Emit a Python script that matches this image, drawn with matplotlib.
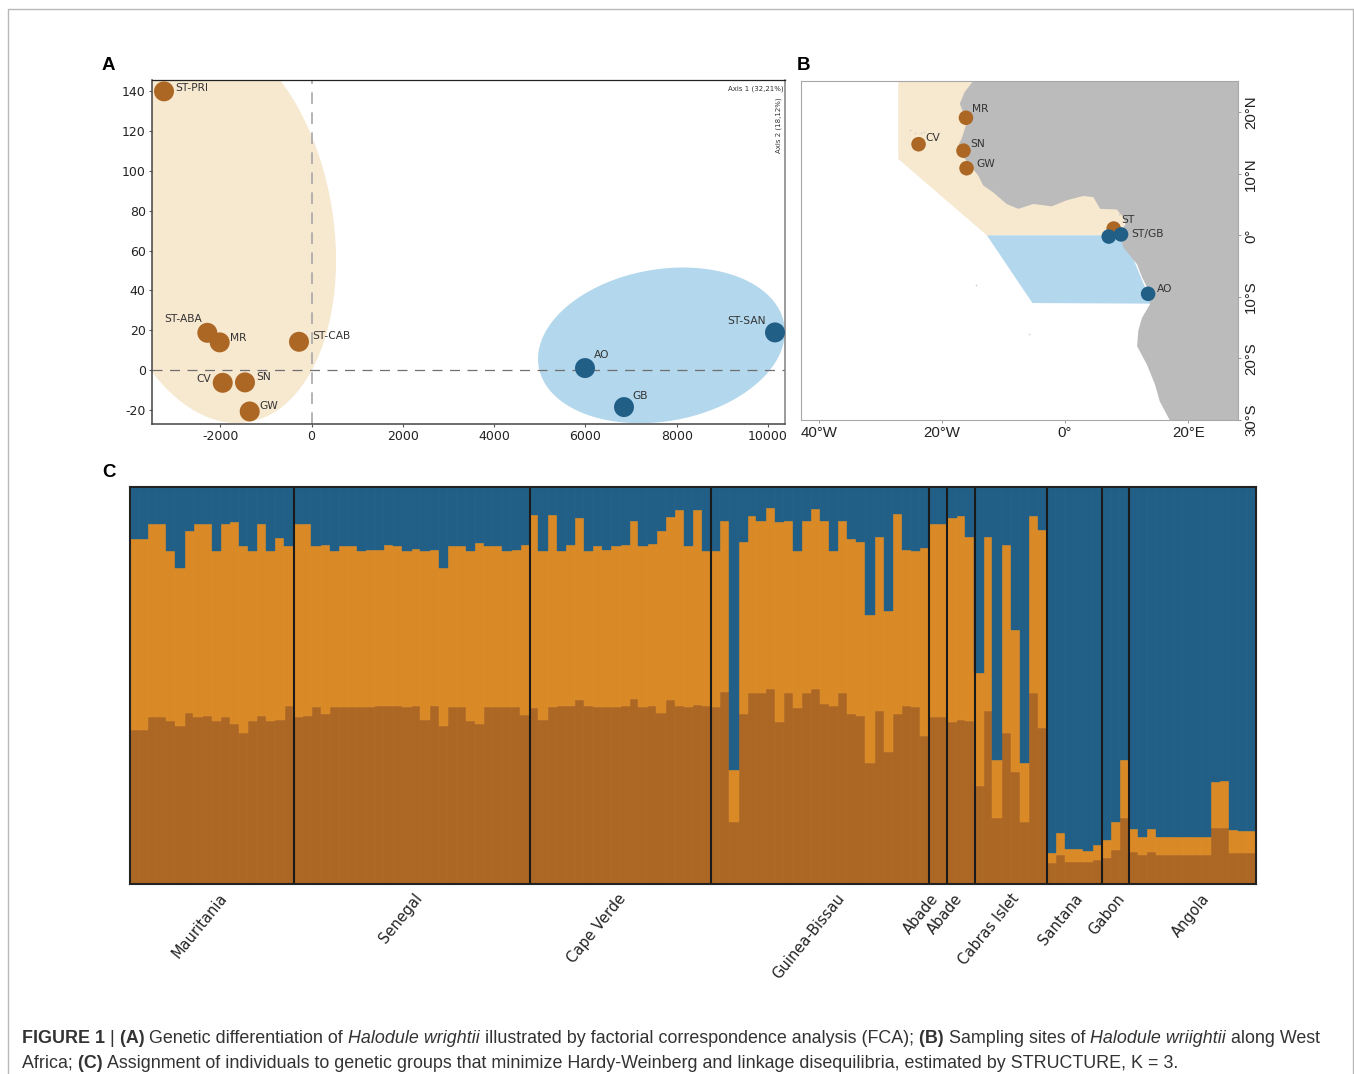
import numpy as np
import matplotlib
matplotlib.use('Agg')
import matplotlib.pyplot as plt
from matplotlib.patches import Polygon

plt.rcParams['axes.unicode_minus'] = False

W, H = 1354, 1074
BROWN = '#AC6724'
ORANGE = '#D98925'
BLUE = '#215F87'
BEIGE = '#F7E8D0'
SKY = '#B3D7EC'
LAND = '#BCBBBB'

# panel A (FCA)
fca_names = ['ST-PRI', 'ST-ABA', 'MR', 'ST-CAB', 'CV', 'SN', 'GW', 'AO', 'GB', 'ST-SAN']
fca_x = [-3231, -2282, -2011, -274, -1945, -1457, -1354, 5991, 6845, 10153]
fca_y = [140, 18.7, 13.9, 14.2, -6.4, -6.2, -20.8, 1, -18.6, 18.9]
fca_group = ['b', 'b', 'b', 'b', 'b', 'b', 'b', 'n', 'n', 'n']
fca_xticks = [-2000, 0, 2000, 4000, 6000, 8000, 10000]
fca_yticks = [-20, 0, 20, 40, 60, 80, 100, 120, 140]

# panel B (map), lon / lat
site_names = ['MR', 'CV', 'SN', 'GW', 'ST', '', 'ST/GB', 'AO']
site_lon = [-16.1, -23.8, -16.5, -16.0, 7.9, 7.1, 9.1, 13.5]
site_lat = [19.1, 14.8, 13.75, 10.9, 1.1, -0.2, 0.15, -9.5]
site_group = ['b', 'b', 'b', 'b', 'b', 'n', 'n', 'n']
coast_lon = [-14.9, -16.3, -17.1, -16.3, -16.1, -16.8, -17.5, -16.5, -15.2, -14.1, -13.3, -11.7,
             -9.5, -7.6, -5.1, -2.2, 0.3, 3.0, 4.6, 5.7, 8.4, 9.5, 9.8, 8.9, 9.5, 11.7, 12.5,
             13.6, 13.8, 12.5, 11.9, 11.7, 13.3, 14.6, 15.4, 17.1]
coast_lat = [25.1, 23.3, 21.4, 19.2, 17.9, 15.7, 14.3, 12.7, 11.1, 9.7, 8.1, 7.0,
             5.1, 4.3, 5.1, 4.7, 5.7, 6.4, 6.2, 4.3, 4.2, 2.9, 1.8, 0.2, -2.0, -4.7, -6.8,
             -9.0, -11.2, -13.4, -15.5, -18.0, -21.0, -24.2, -27.0, -30.2]
north_lon = [-27.1, -27.1, -12.7, 9.5, 12.0, -14.9]
north_lat = [25.1, 12.4, 0.0, 0.0, 25.1, 25.1]
south_lon = [-12.7, -5.3, 14.1, 9.5]
south_lat = [0.0, -11.0, -11.1, 0.0]
island_lon = [-25.2, -24.4, -23.4, -22.9, 8.7, -14.4, -5.8]
island_lat = [17.1, 16.7, 16.6, 16.8, 3.4, -8.0, -16.0]

# panel C (STRUCTURE), percent of each individual, group by group
group_names = ['Mauritania', 'Senegal', 'Cape Verde', 'Guinea-Bissau', 'Abade', 'Abade',
               'Cabras Islet', 'Santana', 'Gabon', 'Angola']
group_sizes = [18, 26, 20, 24, 2, 3, 8, 6, 3, 14]
label_ends = [10.8, 32.2, 54.7, 78.7, 89.1, 91.7, 97.9, 105.0, 109.6, 118.9]
brown_pct = [
    38.9, 38.9, 42.1, 42.1, 41.0, 39.7, 43.1, 42.1, 42.3, 41.1, 42.1, 40.3, 38.1, 41.1, 42.4, 41.1, 41.4, 44.8,
    42.1, 42.3, 44.7, 42.7, 44.7, 44.7, 44.7, 44.7, 44.7, 44.8, 44.8, 44.8, 44.7, 44.8, 41.3, 44.8, 39.9, 44.7,
    44.7, 41.1, 40.4, 44.7, 44.7, 44.7, 44.7, 42.5,
    44.4, 41.2, 44.7, 44.8, 44.9, 46.4, 44.8, 44.6, 44.7, 44.7, 44.8, 46.7, 44.7, 44.8, 43.1, 46.4, 44.8, 44.7, 45.1, 44.8,
    44.7, 48.3, 15.5, 42.7, 48.0, 48.1, 49.0, 40.8, 48.2, 44.4, 48.0, 49.0, 45.4, 44.8, 48.2, 42.9, 42.4, 30.6, 43.6, 33.3, 42.9, 44.8, 44.7, 37.4,
    42.1, 42.1,
    40.7, 41.4, 41.1,
    24.8, 43.5, 16.5, 38.0, 28.3, 15.6, 48.0, 39.4,
    5.4, 7.4, 5.6, 5.6, 5.5, 6.1,
    6.6, 8.5, 16.5,
    8.0, 7.2, 8.0, 7.2, 7.2, 7.2, 7.2, 7.2, 7.2, 14.2, 14.2, 7.9, 7.9, 7.9]
orange_top_pct = [
    87.0, 87.0, 90.7, 90.7, 83.9, 79.6, 88.9, 90.8, 90.8, 83.9, 90.8, 91.2, 85.2, 83.9, 90.8, 83.9, 87.2, 85.2,
    90.8, 90.8, 85.2, 85.4, 84.0, 85.1, 85.2, 84.0, 84.1, 84.1, 85.3, 85.2, 84.0, 84.4, 84.0, 84.2, 79.7, 85.2,
    85.2, 83.8, 85.9, 85.2, 85.2, 84.0, 84.1, 85.5,
    92.9, 84.0, 92.9, 84.0, 85.3, 92.3, 84.0, 85.2, 84.1, 85.2, 85.3, 91.4, 85.2, 85.6, 88.8, 92.4, 94.3, 85.2, 94.3, 84.0,
    84.0, 91.4, 28.7, 86.2, 92.7, 91.4, 94.6, 91.1, 91.4, 84.0, 91.4, 94.5, 91.4, 84.0, 91.4, 87.0, 86.2, 67.8, 87.5, 68.8, 93.2, 84.2, 84.0, 84.6,
    90.8, 90.7,
    92.1, 92.8, 87.5,
    53.2, 87.5, 31.2, 85.5, 64.0, 30.5, 92.6, 89.1,
    7.9, 12.8, 8.7, 8.8, 8.3, 9.9,
    11.0, 15.5, 31.2,
    13.9, 11.8, 13.9, 11.8, 11.8, 11.8, 11.8, 11.8, 11.8, 25.8, 25.9, 13.5, 13.4, 13.4]


def box(left, top, right, bottom):
    """axes rectangle from pixel edges"""
    return [left / W, 1 - bottom / H, (right - left) / W, (bottom - top) / H]


def ellipse(ax, cx, cy, ex, ey, phi, color):
    t = np.linspace(0, 2 * np.pi, 300)
    ax.fill(cx + ex * np.cos(t), cy - ey * np.cos(t - np.radians(phi)), color=color, lw=0, zorder=1)


def write_runs(runs, x, y, size=12.92):
    """writes pieces of text one after the other on one line"""
    r = fig.canvas.get_renderer()
    for text, style, weight in runs:
        t = fig.text(x / W, 1 - y / H, text, fontsize=size, style=style, weight=weight,
                     family='Liberation Sans', color='#333333', va='baseline')
        x = t.get_window_extent(r).x1


fig = plt.figure(figsize=(W / 100, H / 100), dpi=100, facecolor='white')

# card around the figure
frame = fig.add_axes([0, 0, 1, 1], zorder=-1)
frame.set_xlim(0, W)
frame.set_ylim(H, 0)
frame.axis('off')
frame.plot([8, 8, 1353, 1353], [1074, 8.5, 8.5, 1074], color='#B8B8B8', lw=1)

# A
ax = fig.add_axes(box(152, 80, 785, 424))
ax.set_xlim(-3494, 10372)
ax.set_ylim(-27.1, 145.7)
ellipse(ax, -2092, 72.4, 2629, 99, 80, BEIGE)
ellipse(ax, 7665, 12.4, 2703, 39.1, 100, SKY)
ax.axvline(0, color='#A8A8A8', lw=1.2, dashes=(7, 5), zorder=2)
ax.axhline(0, color='#707070', lw=0.9, dashes=(8, 6), zorder=2)
ax.scatter(fca_x, fca_y, s=207, lw=0, zorder=3, clip_on=False,
           c=[BROWN if g == 'b' else BLUE for g in fca_group])
label_off = {'ST-PRI': (11, 3), 'ST-ABA': (-43, 14), 'MR': (10, 4), 'ST-CAB': (13, 6), 'CV': (-26, 4),
             'SN': (11, 5), 'GW': (10, 5), 'AO': (9, 13), 'GB': (8, 11), 'ST-SAN': (-48, 11)}
for name, x, y in zip(fca_names, fca_x, fca_y):
    ax.annotate(name, (x, y), xytext=label_off[name], textcoords='offset pixels', fontsize=7.7,
                color='#333333', va='center', zorder=4)
ax.set_xticks(fca_xticks)
ax.set_yticks(fca_yticks)
ax.tick_params(labelsize=9, length=2.5, width=0.8, color='#555555', labelcolor='#222222', pad=2)
for s in ['left', 'bottom']:
    ax.spines[s].set_linewidth(1.1)
    ax.spines[s].set_color('#444444')
ax.spines['top'].set_linewidth(0.9)
ax.spines['top'].set_color('#222222')
ax.spines['right'].set_linewidth(1.1)
ax.spines['right'].set_color('#808080')
ax.text(0.9985, 0.985, 'Axis 1 (32,21%)', transform=ax.transAxes, fontsize=5, ha='right', va='top', color='#333333')
ax.text(0.9955, 0.95, 'Axis 2 (18,12%)', transform=ax.transAxes, fontsize=5, ha='right', va='top',
        rotation=90, color='#333333')

# B
mp = fig.add_axes(box(801, 81, 1238, 420))
mp.set_xlim(-42.9, 28.1)
mp.set_ylim(-30, 25.07)
mp.add_patch(Polygon(np.c_[north_lon, north_lat], color=BEIGE, lw=0, zorder=1))
mp.add_patch(Polygon(np.c_[south_lon, south_lat], color=SKY, lw=0, zorder=1))
mp.add_patch(Polygon(np.c_[coast_lon + [28.1, 28.1], coast_lat + [-30.2, 25.1]], color=LAND, lw=0, zorder=2))
mp.scatter(island_lon, island_lat, s=1.5, color='#CFCFCF', lw=0, zorder=2)
mp.scatter(site_lon, site_lat, s=110, lw=0, zorder=3, c=[BROWN if g == 'b' else BLUE for g in site_group])
site_off = {'MR': (6, 9), 'CV': (7, 6), 'SN': (7, 7), 'GW': (10, 4), 'ST': (8, 9), 'ST/GB': (10, 0), 'AO': (9, 5)}
for name, x, y in zip(site_names, site_lon, site_lat):
    if name:
        mp.annotate(name, (x, y), xytext=site_off[name], textcoords='offset pixels', fontsize=7.7,
                    color='#333333', va='center', zorder=4)
mp.set_xticks([-40, -20, 0, 20], ['40°W', '20°W', '0°', '20°E'], family='Liberation Sans')
mp.set_yticks([-30, -20, -10, 0, 10, 20], ['30°S', '20°S', '10°S', '0°', '10°N', '20°N'],
              family='Liberation Sans', rotation=90, va='center')
mp.yaxis.tick_right()
mp.tick_params(labelsize=10.8, length=2.5, width=0.7, color='#999999', labelcolor='#222222', pad=2)
for s in mp.spines.values():
    s.set_linewidth(0.8)
    s.set_color('#A8A8A8')

# C
st = fig.add_axes(box(130, 487, 1256, 884))
idx = np.arange(len(brown_pct))
brown = np.array(brown_pct)
orange = np.array(orange_top_pct) - brown
blue = 100 - brown - orange
st.bar(idx, brown, width=1.04, color=BROWN, edgecolor='#B26E2B', lw=0.3)
st.bar(idx, orange, bottom=brown, width=1.04, color=ORANGE, edgecolor='#DE9030', lw=0.3)
st.bar(idx, blue, bottom=brown + orange, width=1.04, color=BLUE, edgecolor='#2A678E', lw=0.3)
st.set_xlim(-0.5, len(idx) - 0.5)
st.set_ylim(0, 100)
for pos in np.cumsum(group_sizes)[:-1]:
    st.axvline(pos - 0.49, color='#1A1A1A', lw=1.5)
for s in st.spines.values():
    s.set_linewidth(1.5)
    s.set_color('#222222')
st.set_yticks([])
st.set_xticks(np.array(label_ends) - 1.5, group_names, rotation=51, ha='right', va='top',
              rotation_mode='anchor', fontsize=10.5, color='#222222')
st.tick_params(axis='x', length=0, pad=5)

# panel letters
for letter, x, y in [('A', 102, 70), ('B', 797, 70), ('C', 102, 477)]:
    fig.text(x / W, 1 - y / H, letter, fontsize=13.5, weight='bold', family='Liberation Sans', color='black')

# caption
fig.canvas.draw()
write_runs([('FIGURE 1', 'normal', 'bold'), (' | ', 'normal', 'normal'), ('(A) ', 'normal', 'bold'),
            ('Genetic differentiation of ', 'normal', 'normal'), ('Halodule wrightii ', 'italic', 'normal'),
            ('illustrated by factorial correspondence analysis (FCA); ', 'normal', 'normal'), ('(B) ', 'normal', 'bold'),
            ('Sampling sites of ', 'normal', 'normal'), ('Halodule wriightii ', 'italic', 'normal'),
            ('along West', 'normal', 'normal')], 22, 1043)
write_runs([('Africa; ', 'normal', 'normal'), ('(C) ', 'normal', 'bold'),
            ('Assignment of individuals to genetic groups that minimize Hardy-Weinberg and linkage disequilibria, estimated by STRUCTURE, K = 3.',
             'normal', 'normal')], 22, 1068)

fig.savefig('out.png', dpi=100, facecolor='white')
